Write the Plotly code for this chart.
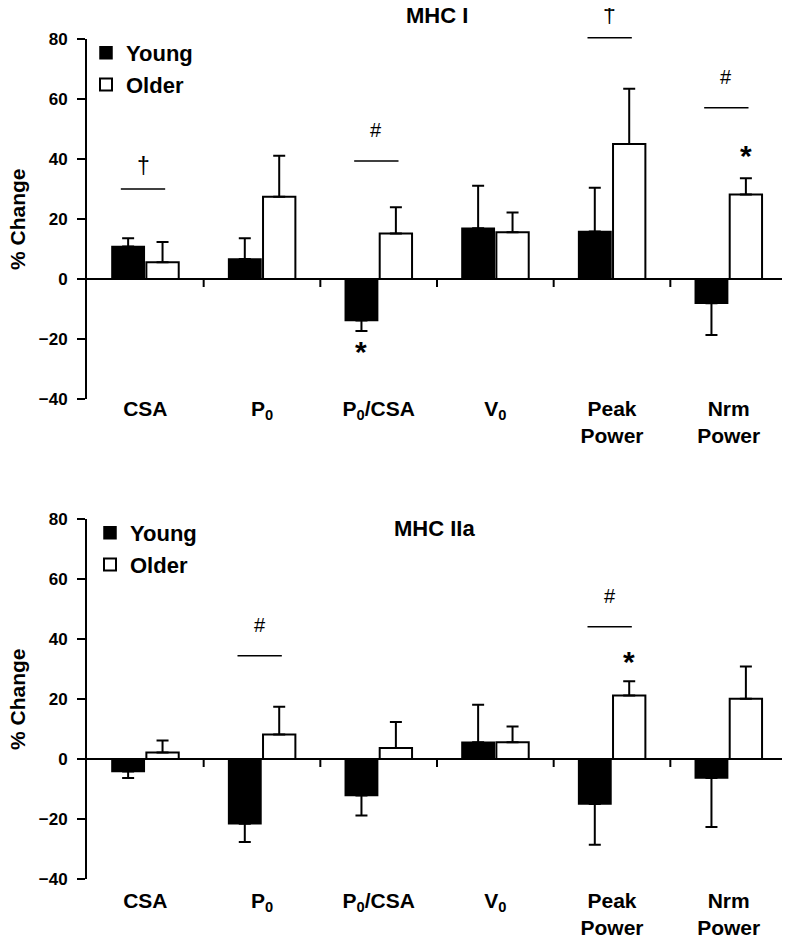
import plotly.graph_objects as go

# ---------------- data ----------------
categories = ["CSA", "P<sub>0</sub>", "P<sub>0</sub>/CSA", "V<sub>0</sub>", "Peak<br>Power", "Nrm<br>Power"]
series_names = ["Young", "Older"]

# MHC I (top panel)
mhc1_young = [10.8, 6.7, -13.8, 16.9, 15.8, -8.1]
mhc1_young_err = [2.8, 6.9, 3.5, 14.2, 14.6, 10.6]
mhc1_older = [5.6, 27.4, 15.2, 15.6, 45.0, 28.2]
mhc1_older_err = [6.7, 13.7, 8.7, 6.6, 18.4, 5.4]

# MHC IIa (bottom panel)
mhc2a_young = [-4.2, -21.6, -12.2, 5.6, -15.0, -6.3]
mhc2a_young_err = [2.1, 6.1, 6.6, 12.5, 13.6, 16.4]
mhc2a_older = [2.2, 8.2, 3.7, 5.6, 21.2, 20.1]
mhc2a_older_err = [4.0, 9.2, 8.6, 5.2, 4.7, 10.7]

y_ticks = [-40, -20, 0, 20, 40, 60, 80]
y_range = [-40, 80]

# significance bars (category index, y level, mark)
mhc1_sig_cat = [0, 2, 4, 5]
mhc1_sig_y = [30.0, 39.3, 80.4, 57.1]
mhc1_sig_mark = ["†", "#", "†", "#"]
mhc2a_sig_cat = [1, 4]
mhc2a_sig_y = [34.4, 44.1]
mhc2a_sig_mark = ["#", "#"]

# asterisks (category index, series index, y level)
mhc1_star_cat = [2, 5]
mhc1_star_series = [0, 1]
mhc1_star_y = [-23.6, 41.9]
mhc2a_star_cat = [4]
mhc2a_star_series = [1]
mhc2a_star_y = [33.1]

# ---------------- figure ----------------
FONT = "Liberation Sans"
x_idx = list(range(len(categories)))

# the page body adds an 8px margin; positions below are page pixels
OFF = 8
W, H = 790 - OFF, 943 - OFF
ML = 87 - OFF
MR = 3
PW = W - ML - MR
def py(px):  # page pixel from top -> paper fraction
    return 1 - (px - OFF) / H
def pxf(px):  # page pixel from left -> paper fraction
    return (px - OFF - ML) / PW

top_domain = [py(399), py(39)]
bot_domain = [py(879), py(519)]

def to_paper(v, dom):
    return dom[0] + (v - y_range[0]) / (y_range[1] - y_range[0]) * (dom[1] - dom[0])

fig = go.Figure()

def err_dict(vals, errs):
    plus = [e if v >= 0 else 0 for v, e in zip(vals, errs)]
    minus = [e if v < 0 else 0 for v, e in zip(vals, errs)]
    return dict(type="data", symmetric=False, array=plus, arrayminus=minus,
                color="black", thickness=2, width=6)

panels = [
    ("x", "y", "legend", mhc1_young, mhc1_young_err, mhc1_older, mhc1_older_err),
    ("x2", "y2", "legend2", mhc2a_young, mhc2a_young_err, mhc2a_older, mhc2a_older_err),
]
for xa, ya, lg, yv, ye, ov, oe in panels:
    fig.add_trace(go.Bar(x=x_idx, y=yv, name=series_names[0], xaxis=xa, yaxis=ya,
                         legend=lg, marker=dict(color="black", line=dict(color="black", width=1.5)),
                         error_y=err_dict(yv, ye)))
    fig.add_trace(go.Bar(x=x_idx, y=ov, name=series_names[1], xaxis=xa, yaxis=ya,
                         legend=lg, marker=dict(color="white", line=dict(color="black", width=2)),
                         error_y=err_dict(ov, oe)))

axis_common = dict(range=[-0.5, len(categories) - 0.5], showline=False, showgrid=False,
                   zeroline=False, tickmode="array", tickvals=x_idx, ticktext=categories,
                   ticks="", automargin=False,
                   tickfont=dict(family=FONT, size=21, color="black", weight="bold"))
yaxis_common = dict(range=y_range, tickmode="array", tickvals=y_ticks, showgrid=False,
                    zeroline=True, zerolinecolor="black", zerolinewidth=2,
                    showline=True, linecolor="black", linewidth=2, automargin=False,
                    ticks="outside", ticklen=8, tickwidth=2, tickcolor="black",
                    ticklabelstandoff=6,
                    tickfont=dict(family=FONT, size=17, color="black", weight="bold"))

legend_font = dict(family=FONT, size=22, color="black", weight="bold")
fig.update_layout(
    width=W, height=H,
    margin=dict(l=ML, r=MR, t=0, b=0, autoexpand=False),
    paper_bgcolor="white", plot_bgcolor="white",
    barmode="group", bargap=0.41, bargroupgap=0.06,
    xaxis=dict(axis_common, anchor="y", ticklabelstandoff=-5),
    yaxis=dict(yaxis_common, domain=top_domain, anchor="x"),
    xaxis2=dict(axis_common, anchor="y2", ticklabelstandoff=7),
    yaxis2=dict(yaxis_common, domain=bot_domain, anchor="x2"),
    legend=dict(x=pxf(86), y=py(32), xanchor="left", yanchor="top", bgcolor="rgba(0,0,0,0)",
                font=legend_font, traceorder="normal"),
    legend2=dict(x=pxf(90), y=py(512), xanchor="left", yanchor="top", bgcolor="rgba(0,0,0,0)",
                 font=legend_font, traceorder="normal", tracegroupgap=0),
    showlegend=True,
)

shapes = []
annotations = []

# x-axis ticks at category boundaries along y = 0
for xa, ya in [("x", "y"), ("x2", "y2")]:
    for i in range(len(categories)):
        shapes.append(dict(type="line", xref=xa, yref=ya, ysizemode="pixel", yanchor=0,
                           x0=i + 0.5, x1=i + 0.5, y0=0, y1=-8,
                           line=dict(color="black", width=2)))

mark_shift = {"†": 23, "#": 31}
mark_size = {"†": 23, "#": 20}
for xa, dom, cats, ys, marks in [("x", top_domain, mhc1_sig_cat, mhc1_sig_y, mhc1_sig_mark),
                                  ("x2", bot_domain, mhc2a_sig_cat, mhc2a_sig_y, mhc2a_sig_mark)]:
    for c, yv, m in zip(cats, ys, marks):
        yp = to_paper(yv, dom)
        shapes.append(dict(type="line", xref=xa, yref="paper", x0=c - 0.21, x1=c + 0.17, y0=yp, y1=yp,
                           line=dict(color="black", width=1.5)))
        annotations.append(dict(xref=xa, yref="paper", x=c - 0.02, y=yp, text=m, showarrow=False,
                                yanchor="middle", yshift=mark_shift[m],
                                font=dict(family=FONT, size=mark_size[m], color="black")))

slot = (1 - 0.41) / 2
for xa, dom, cats, sers, ys in [("x", top_domain, mhc1_star_cat, mhc1_star_series, mhc1_star_y),
                                 ("x2", bot_domain, mhc2a_star_cat, mhc2a_star_series, mhc2a_star_y)]:
    for c, s, yv in zip(cats, sers, ys):
        annotations.append(dict(xref=xa, yref="paper", x=c + (s - 0.5) * slot, y=to_paper(yv, dom),
                                text="*", showarrow=False, yanchor="middle", yshift=-2,
                                font=dict(family=FONT, size=30, color="black", weight="bold")))

# panel titles
title_font = dict(family=FONT, size=22, color="black", weight="bold")
annotations.append(dict(xref="paper", yref="paper", x=pxf(437), y=py(15.5), text="MHC I", showarrow=False,
                        xanchor="center", yanchor="middle", font=title_font))
annotations.append(dict(xref="paper", yref="paper", x=pxf(434.5), y=py(528),
                        text="MHC IIa", showarrow=False, xanchor="center", yanchor="middle",
                        font=title_font))

# y-axis titles
for cy in [219, 699]:
    annotations.append(dict(xref="paper", yref="paper", x=pxf(17), y=py(cy),
                            text="% Change", textangle=-90, showarrow=False,
                            xanchor="center", yanchor="middle",
                            font=dict(family=FONT, size=21, color="black", weight="bold")))

fig.update_layout(shapes=shapes, annotations=annotations)
fig.write_html("out.html")
